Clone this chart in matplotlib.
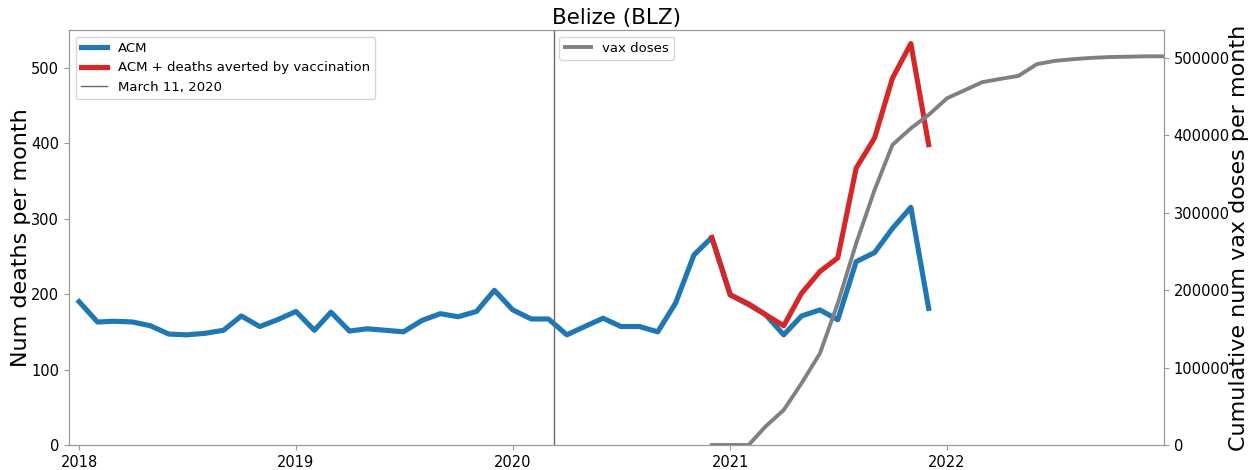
import matplotlib

matplotlib.use("Agg")
import matplotlib.pyplot as plt
import pandas as pd

# monthly all-cause mortality, Jan 2018 - Dec 2021
acm_dates = pd.date_range("2018-01-01", "2021-12-01", freq="MS")
acm = [
    190, 163, 164, 163, 158, 147, 146, 148, 152, 171, 157, 166,
    177, 152, 176, 151, 154, 152, 150, 165, 174, 170, 177, 205,
    179, 167, 167, 146, 157, 168, 157, 157, 150, 188, 252, 275,
    199, 186, 173, 146, 171, 179, 166, 243, 255, 287, 315, 181,
]

# ACM + deaths averted, Dec 2020 - Dec 2021
averted_dates = pd.date_range("2020-12-01", "2021-12-01", freq="MS")
acm_averted = [275, 199, 187, 173, 158, 201, 230, 248, 367, 407, 486, 532, 398]

# cumulative vax doses, Dec 2020 - Jan 2023
vax_dates = pd.date_range("2020-12-01", "2023-01-01", freq="MS")
vax = [
    0, 0, 0, 23600, 45200, 79700, 118400, 183000, 260500, 329500,
    387600, 409000, 426400, 447900, 458700, 468600, 472900, 476700,
    491800, 496100, 498300, 500000, 501000, 501500, 502000, 502000,
]

pandemic = pd.Timestamp("2020-03-11")
spine_col = "#999999"

fig = plt.figure(figsize=(12.59, 4.7), dpi=100)
ax1 = fig.add_axes([0.0548, 0.0532, 0.8697, 0.8830])
ax2 = ax1.twinx()

ax1.plot(acm_dates, acm, color="#1f77b4", lw=3.7, label="ACM")
ax1.plot(averted_dates, acm_averted, color="#d62728", lw=3.7,
         label="ACM + deaths averted by vaccination")
ax1.axvline(pandemic, color="dimgray", lw=1, label="March 11, 2020")
ax2.plot(vax_dates, vax, color="gray", lw=2.8, label="vax doses")

ax1.set_xlim(pd.Timestamp("2017-12-15"), pd.Timestamp("2023-01-01"))
ax1.set_ylim(0, 550)
ax2.set_ylim(0, 536000)
ax1.set_xticks(pd.date_range("2018-01-01", "2022-01-01", freq="YS"))
ax1.set_xticklabels(["2018", "2019", "2020", "2021", "2022"])
ax1.set_yticks(range(0, 501, 100))
ax2.set_yticks(range(0, 500001, 100000))

ax1.set_ylabel("Num deaths per month", fontsize=16, labelpad=0)
ax2.set_ylabel("Cumulative num vax doses per month", fontsize=16, labelpad=-1)
ax1.set_title("Belize (BLZ)", fontsize=15.5, pad=4)

for ax in (ax1, ax2):
    ax.tick_params(labelsize=10.5, color=spine_col)
    for s in ax.spines.values():
        s.set_color(spine_col)

ax1.legend(loc="upper left", fontsize=9.5)
ax2.legend(loc="upper center", fontsize=9.5)

plt.savefig("out.png", dpi=100)
